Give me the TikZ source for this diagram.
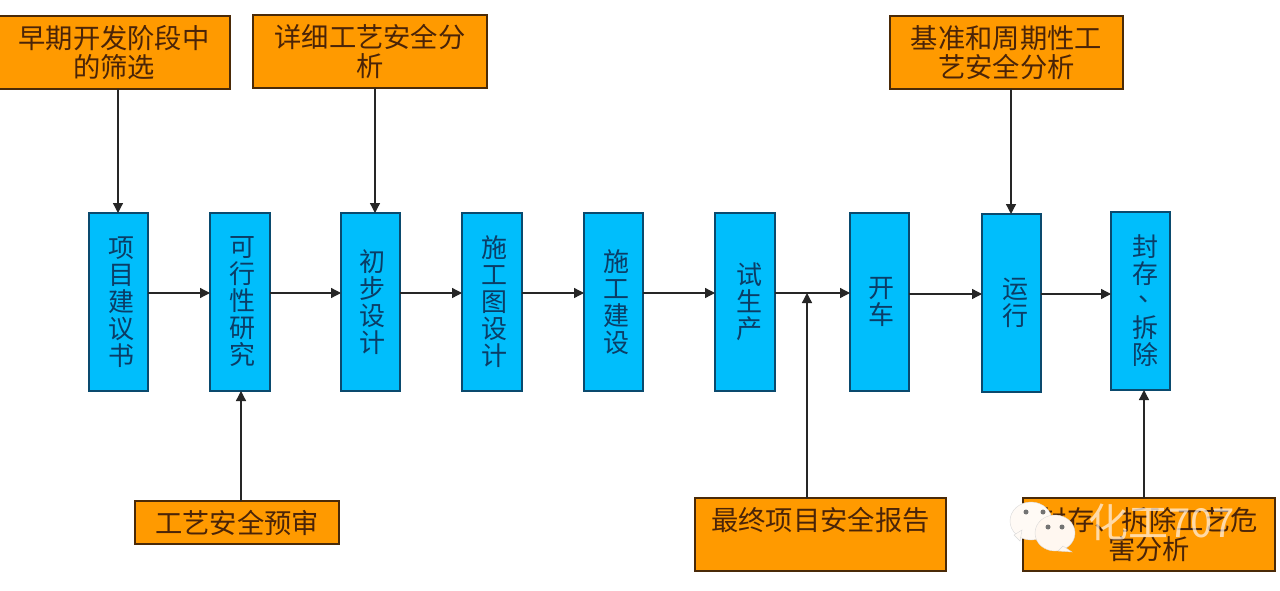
\documentclass[tikz,border=0pt]{standalone}
\usepackage{fontspec}
\setmainfont{Noto Sans CJK SC}
\usetikzlibrary{calc,arrows.meta}
\definecolor{bluefill}{HTML}{00BEFC}
\definecolor{orangefill}{HTML}{FF9A00}
\definecolor{blueink}{HTML}{0B3D66}
\definecolor{orangeink}{HTML}{4A2408}
\definecolor{blueedge}{HTML}{0A4A6E}
\definecolor{orangeedge}{HTML}{4A2A08}
\tikzset{
  x=1pt,y=-1pt,
  boxbase/.style={line width=1.3pt,anchor=north west,inner sep=0pt,outer sep=0pt,align=center},
  bluebox/.style={boxbase,draw=blueedge,fill=bluefill,text=blueink,font=\fontsize{26}{27}\selectfont},
  orangebox/.style={boxbase,draw=orangeedge,fill=orangefill,text=orangeink,font=\fontsize{27.3}{29.5}\selectfont},
  flow/.style={draw=black!85,line width=1.3pt,-{Triangle[length=10pt,width=10pt]}},
  bubble/.style={fill=#1,draw=black!15,line width=0.4pt},
  mark text/.style={text=#1,font=\fontsize{40}{40}\selectfont,opacity=0.75,inner sep=0pt},
}
\newcommand{\bb}[7][5pt]{\node[bluebox,minimum width=#5 pt-#3 pt,minimum height=#6 pt-#4 pt] (#2) at (#3,#4) {\hspace*{#1}\parbox[c]{30pt}{\centering\lineskiplimit=-100pt\baselineskip=27pt #7}};}
\newcommand{\ob}[6]{\node[orangebox,minimum width=#4 pt-#2 pt,minimum height=#5 pt-#3 pt] (#1) at (#2,#3) {#6};}
\begin{document}
\begin{tikzpicture}
\useasboundingbox (0,0) rectangle (1280,591);
\fill[white] (0,0) rectangle (1280,591);
\bb{b1}{89}{213}{148}{391}{项\\目\\建\\议\\书}
\bb{b2}{210}{213}{270}{391}{可\\行\\性\\研\\究}
\bb[4pt]{b3}{341}{213}{400}{391}{初\\步\\设\\计}
\bb{b4}{462}{213}{522}{391}{施\\工\\图\\设\\计}
\bb{b5}{584}{213}{643}{391}{施\\工\\建\\设}
\bb[8pt]{b6}{715}{213}{775}{391}{试\\生\\产}
\bb[4pt]{b7}{850}{213}{909}{391}{开\\车}
\bb[8pt]{b8}{982}{214}{1041}{392}{运\\行}
\bb[9pt]{b9}{1111}{212}{1170}{390}{封\\存\\\hspace*{8pt}\raisebox{9pt}{、}\\拆\\除}
\ob{o1}{-2}{16}{230}{89}{早期开发阶段中\\的筛选}
\ob{o2}{253}{15}{487}{88}{详细工艺安全分\\析}
\ob{o3}{890}{16}{1123}{89}{基准和周期性工\\艺安全分析}
\ob{o4}{135}{501}{339}{544}{工艺安全预审}
\ob{o5}{695}{498}{946}{571}{\raisebox{32pt}{最终项目安全报告}}
\ob{o6}{1023}{498}{1275}{571}{封存、拆除工艺危\\害分析}
\coordinate (x1) at (118,0);
\coordinate (x2) at (375,0);
\coordinate (x3) at (1011,0);
\coordinate (x4) at (241,0);
\coordinate (x5) at (807,0);
\coordinate (x6) at (1144,0);
\coordinate (y1) at (0,293);
\coordinate (y2) at (0,294);
\draw[flow] (o1.south -| x1) -- (b1.north -| x1);
\draw[flow] (o2.south -| x2) -- (b3.north -| x2);
\draw[flow] (o3.south -| x3) -- (b8.north -| x3);
\draw[flow] (o4.north -| x4) -- (b2.south -| x4);
\draw[flow] (o6.north -| x6) -- (b9.south -| x6);
\draw[flow] (b1.east |- y1) -- (b2.west |- y1);
\draw[flow] (b2.east |- y1) -- (b3.west |- y1);
\draw[flow] (b3.east |- y1) -- (b4.west |- y1);
\draw[flow] (b4.east |- y1) -- (b5.west |- y1);
\draw[flow] (b5.east |- y1) -- (b6.west |- y1);
\draw[flow] (b6.east |- y1) -- (b7.west |- y1);
\draw[flow] (b7.east |- y2) -- (b8.west |- y2);
\draw[flow] (b8.east |- y2) -- (b9.west |- y2);
\draw[flow] (o5.north -| x5) -- (x5 |- y1);
% watermark
\fill[bubble=white!96!orange] (1031,521) ellipse (21 and 19);
\fill[bubble=white!96!orange] (1014,535) -- (1022,530) -- (1020,541) -- cycle;
\fill[bubble=white!94!orange] (1055,533) ellipse (20 and 18);
\fill[bubble=white!94!orange] (1063,546) -- (1072,552) -- (1058,551) -- cycle;
\fill[black!55] (1026,512) circle (2.5) (1043,512) circle (2.5) (1048,527) circle (2.5) (1062,527) circle (2.5);
\node[mark text=white!88!orange,anchor=west] (wm) at (1088,522) {化工707};
\end{tikzpicture}
\end{document}
